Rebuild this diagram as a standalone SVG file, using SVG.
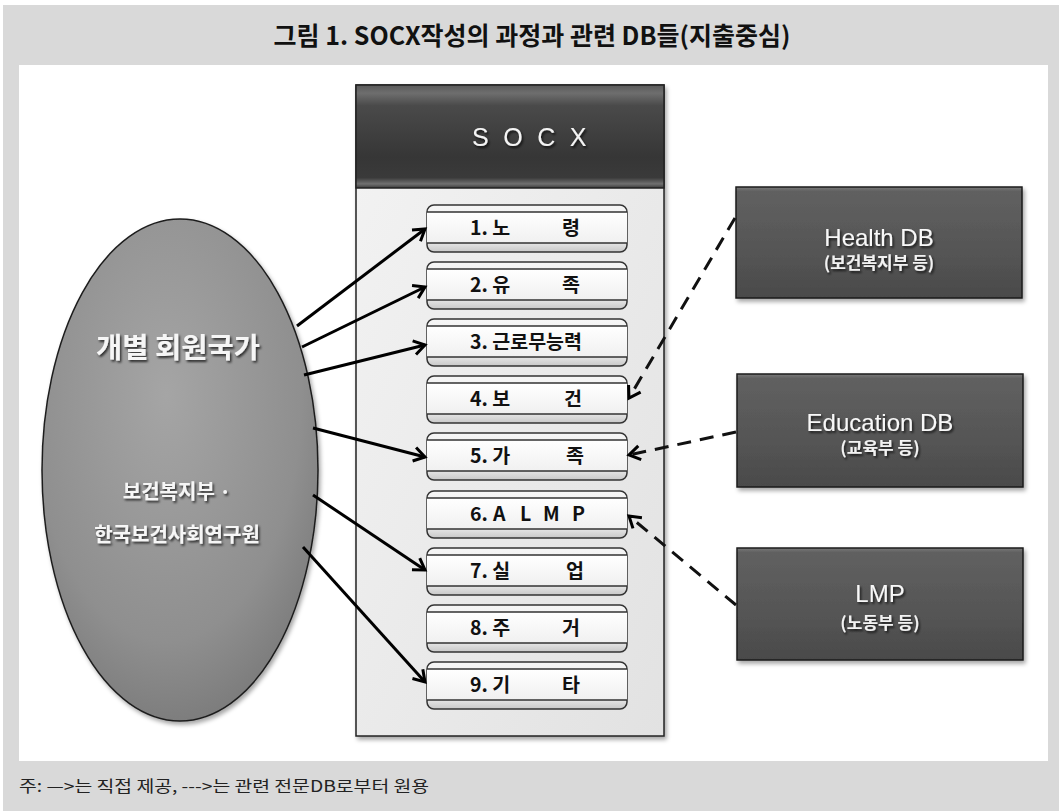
<svg xmlns="http://www.w3.org/2000/svg" width="1059" height="811" viewBox="0 0 1059 811">
<style>
.kr{font-family:"Noto Sans CJK KR","Noto Sans",sans-serif}
.title{font-size:25px;font-weight:700;fill:#111}
.item{font-size:19.5px;font-weight:700;fill:#111}
.ell{font-weight:700;fill:#f6f6f6;text-anchor:middle}
.dbname{font-family:"Liberation Sans",Arial,sans-serif;font-size:24px;fill:#f8f8f8;text-anchor:middle}
.dbsub{font-size:17px;font-weight:700;fill:#f2f2f2;text-anchor:middle}
.solid{stroke:#000;stroke-width:3;fill:none;marker-end:url(#ah)}
.dash{stroke:#111;stroke-width:3;fill:none;stroke-dasharray:14 9;marker-end:url(#ah)}
.boxo{fill:url(#gBand);stroke:#333;stroke-width:1.5}
.boxi{fill:url(#gInner)}
.boxl{stroke:#333;stroke-width:1.5}
.db{fill:url(#gDB);stroke:#1b1b1b;stroke-width:1.5}
</style>
<defs>
<marker id="ah" markerUnits="userSpaceOnUse" markerWidth="18" markerHeight="18" viewBox="0 0 18 18" refX="15" refY="9" orient="auto">
<path d="M4,2 L15,9 L4,16" fill="none" stroke="#000" stroke-width="3" stroke-dasharray="none" stroke-linejoin="miter"/>
</marker>
<linearGradient id="gHead" x1="0" y1="0" x2="0" y2="1">
<stop offset="0" stop-color="#5a5a5a"/>
<stop offset="0.08" stop-color="#6e6e6e"/>
<stop offset="0.2" stop-color="#4a4a4a"/>
<stop offset="0.7" stop-color="#363636"/>
<stop offset="0.9" stop-color="#3a3a3a"/>
<stop offset="0.96" stop-color="#707070"/>
<stop offset="1" stop-color="#3a3a3a"/>
</linearGradient>
<linearGradient id="gBody" x1="0" y1="0" x2="1" y2="1">
<stop offset="0" stop-color="#f3f3f3"/>
<stop offset="1" stop-color="#e2e2e2"/>
</linearGradient>
<linearGradient id="gBand" x1="0" y1="0" x2="0" y2="1">
<stop offset="0" stop-color="#f6f6f6"/>
<stop offset="0.8" stop-color="#e6e6e6"/>
<stop offset="1" stop-color="#c8c8c8"/>
</linearGradient>
<linearGradient id="gInner" x1="0" y1="0" x2="0" y2="1">
<stop offset="0" stop-color="#ffffff"/>
<stop offset="1" stop-color="#f0f0f0"/>
</linearGradient>
<linearGradient id="gDB" x1="0" y1="0" x2="0" y2="1">
<stop offset="0" stop-color="#7a7a7a"/>
<stop offset="0.04" stop-color="#606060"/>
<stop offset="0.5" stop-color="#575757"/>
<stop offset="1" stop-color="#4a4a4a"/>
</linearGradient>
<radialGradient id="gEll" cx="0.45" cy="0.35" r="0.7">
<stop offset="0" stop-color="#a5a5a5"/>
<stop offset="0.7" stop-color="#8f8f8f"/>
<stop offset="1" stop-color="#787878"/>
</radialGradient>
<filter id="tsh" x="-10%" y="-30%" width="120%" height="160%">
<feDropShadow dx="1.5" dy="2" stdDeviation="1" flood-color="#000" flood-opacity="0.7"/>
</filter>
<filter id="bsh" x="-5%" y="-5%" width="115%" height="120%">
<feDropShadow dx="2" dy="3" stdDeviation="2" flood-color="#000" flood-opacity="0.35"/>
</filter>
</defs>

<rect x="0" y="0" width="1059" height="811" fill="#ffffff"/>
<rect x="3" y="5" width="1056" height="806" fill="#d9d9d9"/>
<rect x="19" y="65" width="1029" height="696" fill="#ffffff"/>

<text class="kr title" x="532" y="45" text-anchor="middle">그림 1. SOCX작성의 과정과 관련 DB들(지출중심)</text>

<g id="socx">
<rect x="356" y="85" width="308" height="651" fill="url(#gBody)" stroke="#222" stroke-width="1.5" filter="url(#bsh)"/>
<rect x="356" y="85" width="308" height="103" fill="url(#gHead)" stroke="#222" stroke-width="1.5"/>
<text x="472" y="146" font-family="'Liberation Sans',Arial,sans-serif" font-size="25" fill="#f4f4f4" letter-spacing="3.8" filter="url(#tsh)">S O C X</text>
</g>

<g id="item1"><rect class="boxo" x="427" y="205" width="200" height="47" rx="7"/><rect class="boxi" x="427" y="212" width="200" height="31"/><path class="boxl" d="M427,212H627M427,243H627"/><text class="kr item" y="235"><tspan x="470">1. 노</tspan><tspan x="562">령</tspan></text></g>
<g id="item2"><rect class="boxo" x="427" y="262" width="200" height="47" rx="7"/><rect class="boxi" x="427" y="269" width="200" height="31"/><path class="boxl" d="M427,269H627M427,300H627"/><text class="kr item" y="292"><tspan x="470">2. 유</tspan><tspan x="562">족</tspan></text></g>
<g id="item3"><rect class="boxo" x="427" y="319" width="200" height="47" rx="7"/><rect class="boxi" x="427" y="326" width="200" height="31"/><path class="boxl" d="M427,326H627M427,357H627"/><text class="kr item" x="470" y="349">3. 근로무능력</text></g>
<g id="item4"><rect class="boxo" x="427" y="376" width="200" height="47" rx="7"/><rect class="boxi" x="427" y="383" width="200" height="31"/><path class="boxl" d="M427,383H627M427,414H627"/><text class="kr item" y="406"><tspan x="470">4. 보</tspan><tspan x="564">건</tspan></text></g>
<g id="item5"><rect class="boxo" x="427" y="433" width="200" height="47" rx="7"/><rect class="boxi" x="427" y="440" width="200" height="31"/><path class="boxl" d="M427,440H627M427,471H627"/><text class="kr item" y="463"><tspan x="470">5. 가</tspan><tspan x="566">족</tspan></text></g>
<g id="item6"><rect class="boxo" x="427" y="491" width="200" height="47" rx="7"/><rect class="boxi" x="427" y="498" width="200" height="31"/><path class="boxl" d="M427,498H627M427,529H627"/><text class="kr item" y="521"><tspan x="470">6.</tspan><tspan x="493">A</tspan><tspan x="520">L</tspan><tspan x="543">M</tspan><tspan x="572">P</tspan></text></g>
<g id="item7"><rect class="boxo" x="427" y="548" width="200" height="47" rx="7"/><rect class="boxi" x="427" y="555" width="200" height="31"/><path class="boxl" d="M427,555H627M427,586H627"/><text class="kr item" y="578"><tspan x="470">7. 실</tspan><tspan x="566">업</tspan></text></g>
<g id="item8"><rect class="boxo" x="427" y="605" width="200" height="47" rx="7"/><rect class="boxi" x="427" y="612" width="200" height="31"/><path class="boxl" d="M427,612H627M427,643H627"/><text class="kr item" y="635"><tspan x="470">8. 주</tspan><tspan x="562">거</tspan></text></g>
<g id="item9"><rect class="boxo" x="427" y="662" width="200" height="47" rx="7"/><rect class="boxi" x="427" y="669" width="200" height="31"/><path class="boxl" d="M427,669H627M427,700H627"/><text class="kr item" y="692"><tspan x="470">9. 기</tspan><tspan x="562">타</tspan></text></g>

<g id="member">
<ellipse cx="180" cy="470" rx="138" ry="251" fill="url(#gEll)" stroke="#1e1e1e" stroke-width="1.5" filter="url(#bsh)"/>
<text class="kr ell" x="178" y="358" font-size="28.5" filter="url(#tsh)">개별 회원국가</text>
<text class="kr ell" x="177" y="499" font-size="20" filter="url(#tsh)">보건복지부 ·</text>
<text class="kr ell" x="177" y="542" font-size="20" filter="url(#tsh)">한국보건사회연구원</text>
</g>

<g id="healthdb">
<rect class="db" x="736" y="187" width="286" height="111" filter="url(#bsh)"/>
<text class="dbname" x="879" y="246" filter="url(#tsh)">Health DB</text>
<text class="kr dbsub" x="879" y="269" filter="url(#tsh)">(보건복지부 등)</text>
</g>
<g id="educationdb">
<rect class="db" x="737" y="374" width="286" height="113" filter="url(#bsh)"/>
<text class="dbname" x="880" y="431" filter="url(#tsh)">Education DB</text>
<text class="kr dbsub" x="880" y="454" filter="url(#tsh)">(교육부 등)</text>
</g>
<g id="lmp">
<rect class="db" x="737" y="548" width="286" height="112" filter="url(#bsh)"/>
<text class="dbname" x="880" y="602" filter="url(#tsh)">LMP</text>
<text class="kr dbsub" x="880" y="629" filter="url(#tsh)">(노동부 등)</text>
</g>

<g id="connectors">
<line class="solid" x1="297" y1="326" x2="425" y2="229"/>
<line class="solid" x1="302" y1="347" x2="425" y2="287"/>
<line class="solid" x1="304" y1="375" x2="425" y2="345"/>
<line class="solid" x1="313" y1="428" x2="425" y2="457"/>
<line class="solid" x1="313" y1="495" x2="425" y2="570"/>
<line class="solid" x1="303" y1="547" x2="425" y2="682"/>
<line class="dash" x1="735" y1="218" x2="629" y2="398"/>
<line class="dash" x1="736" y1="432" x2="629" y2="455"/>
<line class="dash" x1="736" y1="605" x2="629" y2="516"/>
</g>

<text class="kr" x="19" y="792" font-size="16" fill="#222" textLength="410" lengthAdjust="spacingAndGlyphs">주: —&gt;는 직접 제공, ---&gt;는 관련 전문DB로부터 원용</text>
</svg>
